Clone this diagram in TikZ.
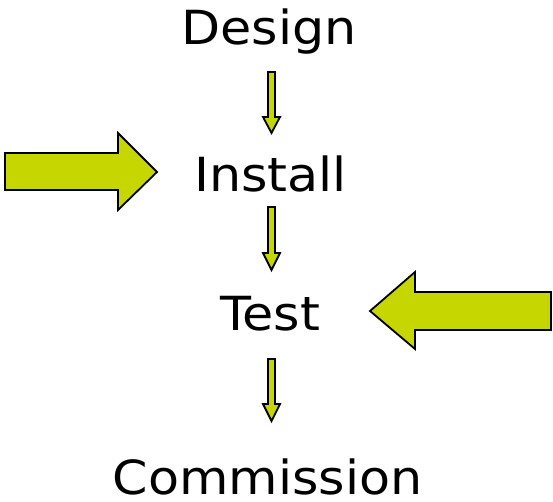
\documentclass[tikz,border=0pt]{standalone}
\usepackage{fontspec}
\setmainfont{DejaVu Sans}[FakeStretch=1.08]
\definecolor{leaf}{HTML}{C5D600}
\tikzset{
  stage/.style={font=\fontsize{47}{56}\selectfont, anchor=base, inner sep=0pt, text depth=0pt},
  blockarrow/.style={fill=leaf, draw=black, line width=1.8pt, line join=miter},
}
\begin{document}
\begin{tikzpicture}[x=1pt, y=-1pt]
  \useasboundingbox (0,0) rectangle (553,502);
  % stage labels
  \node[stage] (design)  at (269,45)    {Design};
  \node[stage] (install) at (270.5,192) {Install};
  \node[stage] (test)    at (270,330)   {Test};
  \node[stage] (comm)    at (267.5,494) {Commission};
  % thin down arrows between stages
  \draw[blockarrow] (268,72) -- (275,72) -- (275,117) -- (280,117) -- (271.5,133)
        -- (263,117) -- (268,117) -- cycle;
  \draw[blockarrow] (268,207) -- (275,207) -- (275,253) -- (280,253) -- (271.5,270)
        -- (263,253) -- (268,253) -- cycle;
  \draw[blockarrow] (268,359) -- (275,359) -- (275,404) -- (280,404) -- (271.5,421)
        -- (263,404) -- (268,404) -- cycle;
  % large input arrows
  \draw[blockarrow] (5,153) -- (118,153) -- (118,133) -- (157,172) -- (118,210)
        -- (118,190) -- (5,190) -- cycle;
  \draw[blockarrow] (551,292) -- (415,292) -- (415,272) -- (370,311) -- (415,349)
        -- (415,330) -- (551,330) -- cycle;
\end{tikzpicture}
\end{document}
